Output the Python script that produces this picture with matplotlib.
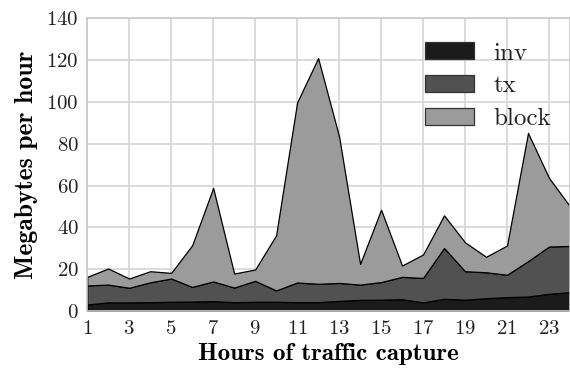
import matplotlib.pyplot as plt
import numpy as np

# Hours of capture and per-series traffic (MB per hour)
hours = list(range(1, 25))
inv = [3.2, 4.2, 4.2, 4.3, 4.5, 4.6, 4.8, 4.3, 4.5, 4.5, 4.3, 4.3,
       4.9, 5.4, 5.5, 5.7, 4.2, 5.9, 5.5, 6.2, 6.7, 7.0, 8.3, 9.1]
tx = [9.1, 8.5, 7.0, 9.5, 11.1, 7.0, 9.4, 7.0, 10.0, 5.4, 9.4, 8.8,
      8.6, 7.3, 8.4, 10.7, 11.7, 24.3, 13.6, 12.4, 10.7, 16.9, 22.6, 22.1]
block = [4.1, 7.7, 4.4, 5.3, 2.7, 19.9, 44.7, 6.7, 5.4, 26.4, 86.1, 107.9,
         70.0, 9.9, 34.6, 5.4, 11.2, 15.6, 13.8, 7.4, 14.0, 61.3, 32.8, 18.9]
labels = ['inv', 'tx', 'block']
colors = ['#1b1b1b', '#515151', '#9b9b9b']

plt.rcParams['axes.formatter.use_mathtext'] = True
plt.rcParams['text.color'] = '#222222'

fig = plt.figure(figsize=(5.7, 3.74), dpi=100)
ax = fig.add_axes([0.153, 0.168, 0.847, 0.783])

ax.stackplot(hours, inv, tx, block, labels=labels, colors=colors,
             edgecolor='black', linewidth=0.9)

ax.set_xlim(1, 24)
ax.set_ylim(0, 140)
ax.set_xticks(range(1, 24, 2))
ax.set_yticks(range(0, 141, 20))
ax.grid(True, color='#d4d4d4', linewidth=1.2)
ax.set_axisbelow(True)
for s in ax.spines.values():
    s.set_color('#c8c8c8')
    s.set_linewidth(1.2)
ax.tick_params(length=0, pad=6, labelsize=15, labelcolor='#222222')
for t in ax.get_xticklabels() + ax.get_yticklabels():
    t.set_family('cmr10')

ax.set_xlabel('Hours of traffic capture', family='cmb10', fontsize=18, labelpad=4)
ax.set_ylabel('Megabytes per hour', family='cmb10', fontsize=18.5, labelpad=6)

leg = ax.legend(loc='upper left', bbox_to_anchor=(0.654, 0.995), frameon=False,
                prop={'family': 'cmr10', 'size': 18}, handlelength=1.96,
                handleheight=0.68, labelspacing=0.42, handletextpad=0.76)
for h in leg.legend_handles:
    h.set_edgecolor('#333333')

fig.savefig('out.png', dpi=100)
